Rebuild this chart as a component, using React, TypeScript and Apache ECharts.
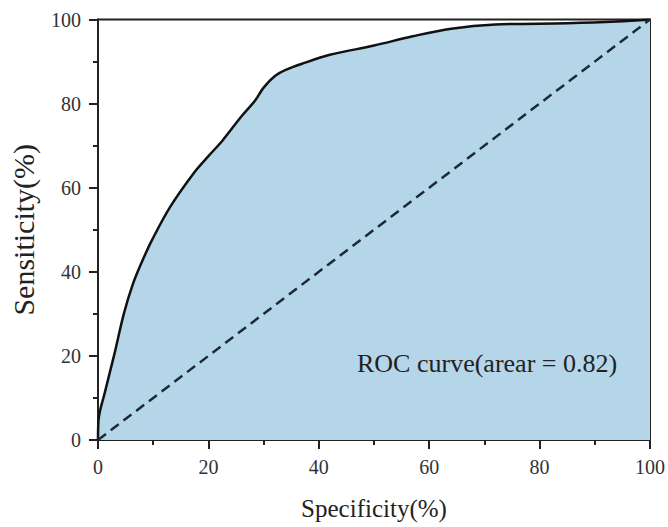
import React, { useEffect, useRef } from "react";
import * as echarts from "echarts";

const fprValues = [0, 0.1, 1.2, 3, 4.7, 6.3, 8, 9.8, 13.1, 17.3, 20, 22.6, 26, 28.5, 30, 32, 34, 37, 42, 50, 57, 64, 72, 85, 94, 100];
const tprValues = [0, 4.8, 11.1, 20.6, 30.1, 37, 42.5, 47.6, 55.5, 63.4, 67.5, 71.3, 77, 80.8, 83.8, 86.5, 88, 89.5, 91.6, 93.8, 96, 97.8, 98.8, 99.1, 99.5, 100];
const diagonalX = [0, 100];
const diagonalY = [0, 100];
const xTicks = [0, 20, 40, 60, 80, 100];
const yTicks = [0, 20, 40, 60, 80, 100];
const xTitle = "Specificity(%)";
const yTitle = "Sensiticity(%)";
const annotation = "ROC curve(arear = 0.82)";

const FONT = "'Liberation Serif', 'Times New Roman', serif";

export default function App() {
  const ref = useRef<HTMLDivElement>(null);
  useEffect(() => {
    document.body.style.margin = "0";
    const chart = echarts.init(ref.current!, null, { renderer: "svg" });
    const axisCommon = {
      type: "value" as const,
      min: 0,
      max: 100,
      interval: 20,
      axisLine: { show: true, onZero: false, lineStyle: { color: "#222", width: 2 } },
      axisTick: { show: true, inside: false, length: 9, lineStyle: { color: "#222", width: 2 } },
      minorTick: { show: true, splitNumber: 2, length: 5, lineStyle: { color: "#222", width: 2 } },
      splitLine: { show: false },
    };
    chart.setOption({
      animation: false,
      backgroundColor: "#fff",
      grid: {
        left: 93.5,
        right: 15.5,
        top: 19.5,
        bottom: 87,
        show: true,
        borderColor: "#222",
        borderWidth: 2,
        backgroundColor: "transparent",
      },
      xAxis: {
        ...axisCommon,
        name: xTitle,
        nameLocation: "middle",
        nameGap: 56,
        nameTextStyle: { fontFamily: FONT, color: "#222", fontSize: 25 },
        axisLabel: {
          fontFamily: FONT,
          fontSize: 20,
          color: "#333",
          margin: 17,
          formatter: (v: number) => (xTicks.includes(v) ? String(v) : ""),
        },
      },
      yAxis: {
        ...axisCommon,
        name: yTitle,
        nameLocation: "middle",
        nameGap: 60,
        nameTextStyle: { fontFamily: FONT, color: "#222", fontSize: 30 },
        axisLabel: {
          fontFamily: FONT,
          fontSize: 20,
          color: "#333",
          margin: 17,
          formatter: (v: number) => (yTicks.includes(v) ? String(v) : ""),
        },
      },
      series: [
        {
          type: "line",
          data: fprValues.map((x, i) => [x, tprValues[i]]),
          smooth: 0.35,
          showSymbol: false,
          symbol: "none",
          lineStyle: { color: "#111", width: 2.5 },
          areaStyle: { color: "#b5d5e8", opacity: 1 },
          z: 2,
        },
        {
          type: "line",
          data: diagonalX.map((x, i) => [x, diagonalY[i]]),
          showSymbol: false,
          symbol: "none",
          lineStyle: { color: "#1c2a38", width: 2.5, type: [10, 6] },
          z: 3,
        },
      ],
      graphic: [
        {
          type: "text",
          x: 357,
          y: 363,
          style: {
            text: annotation,
            fontFamily: FONT,
            fontSize: 26,
            fill: "#222",
            verticalAlign: "middle",
            align: "left",
          },
          z: 10,
        },
      ],
    });
    return () => chart.dispose();
  }, []);
  return <div ref={ref} style={{ width: 668, height: 527 }} />;
}
